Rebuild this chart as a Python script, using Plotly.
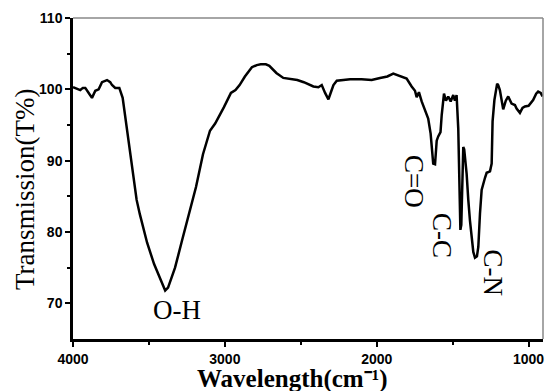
import plotly.graph_objects as go

wavenumber = [4000, 3975, 3952, 3935, 3919, 3900, 3875, 3853, 3831, 3809, 3776, 3755, 3743, 3722, 3695,
              3673, 3650, 3623, 3601, 3581, 3560, 3547, 3512, 3466, 3420, 3393, 3374, 3350, 3328, 3282,
              3236, 3190, 3144, 3098, 3064, 3030, 3006, 2960, 2930, 2903, 2868, 2822, 2790, 2764, 2730,
              2707, 2661, 2615, 2560, 2523, 2480, 2440, 2417, 2384, 2362, 2340, 2318, 2300, 2285, 2263,
              2175, 2100, 2033, 1978, 1930, 1891, 1847, 1803, 1770, 1748, 1737, 1722, 1704, 1682, 1661,
              1645, 1635, 1628, 1616, 1605, 1595, 1580, 1572, 1557, 1544, 1529, 1513, 1496, 1485, 1474,
              1463, 1455, 1449, 1443, 1436, 1430, 1424, 1416, 1408, 1397, 1386, 1364, 1353, 1340, 1331,
              1320, 1309, 1287, 1276, 1254, 1243, 1237, 1225, 1207, 1200, 1189, 1167, 1150, 1134, 1112,
              1090, 1079, 1057, 1040, 1024, 1000, 991, 970, 950, 937, 920, 908]
transmission = [100.3, 100.1, 99.9, 100.2, 100.2, 99.6, 98.8, 99.8, 100.0, 101.0, 101.3, 101.0, 100.6, 100.2, 100.2,
                98.8, 95.2, 91.5, 87.8, 84.5, 82.5, 81.5, 78.5, 75.5, 73.1, 71.8, 72.2, 73.6, 75.0, 78.8,
                82.5, 86.3, 90.9, 94.2, 95.2, 96.5, 97.5, 99.5, 99.9, 100.6, 101.8, 103.1, 103.4, 103.5, 103.5,
                103.3, 102.3, 101.6, 101.4, 101.3, 101.0, 100.6, 100.4, 100.3, 100.6, 99.5, 98.6, 99.7, 100.6, 101.2,
                101.4, 101.4, 101.3, 101.6, 101.8, 102.2, 101.9, 101.5, 100.4, 99.8, 98.9, 99.6, 98.3, 97.1, 95.9,
                93.8, 91.0, 89.6, 89.5, 92.8, 93.4, 94.0, 96.4, 99.4, 98.4, 99.0, 98.3, 99.2, 98.4, 99.2,
                94.5, 85.0, 80.3, 81.0, 88.0, 91.9, 91.6, 90.0, 88.2, 84.5, 81.6, 77.2, 76.4, 76.6, 77.9,
                82.6, 85.9, 87.6, 88.3, 88.5, 89.6, 95.5, 98.5, 100.8, 100.6, 99.9, 97.2, 98.4, 99.0, 98.0,
                97.8, 97.3, 96.7, 97.4, 97.6, 97.7, 97.9, 98.5, 99.4, 99.7, 99.5, 99.0]

x_ticks = [4000, 3000, 2000, 1000]
y_ticks = [70, 80, 90, 100, 110]

peak_labels = ["O-H", "C=O", "C-C", "C-N"]
peak_x = [3316, 1759, 1567, 1233]
peak_y = [69.0, 87.1, 79.5, 74.3]
peak_angle = [0, 90, 90, 90]

fig = go.Figure()
fig.add_trace(go.Scatter(x=wavenumber, y=transmission, mode="lines",
                         line=dict(color="black", width=2.5), showlegend=False, hoverinfo="skip"))

tick_font = dict(family="Liberation Sans", size=14, color="black", weight="bold")
fig.update_xaxes(range=[4000, 905], tickvals=x_ticks, ticktext=[str(v) for v in x_ticks],
                 ticks="outside", ticklen=5, tickwidth=2, tickcolor="black", automargin=False,
                 showline=True, linecolor="black", linewidth=2.5, showgrid=False, zeroline=False,
                 tickfont=tick_font,
                 minor=dict(tickvals=[3500, 2500, 1500], ticks="outside", ticklen=3, tickwidth=1.5,
                            tickcolor="black", showgrid=False))
fig.update_yaxes(range=[65, 110], tickvals=y_ticks, ticks="outside", ticklen=5, tickwidth=2,
                 tickcolor="black", showline=True, linecolor="black", linewidth=2.5, automargin=False,
                 showgrid=False, zeroline=False, tickfont=tick_font,
                 minor=dict(tickvals=[75, 85, 95, 105], ticks="outside", ticklen=3, tickwidth=1.5,
                            tickcolor="black", showgrid=False))

for txt, px, py, ang in zip(peak_labels, peak_x, peak_y, peak_angle):
    fig.add_annotation(x=px, y=py, text=txt, textangle=ang, showarrow=False,
                       font=dict(family="Liberation Serif", size=27, color="black"),
                       xanchor="center", yanchor="middle")

# axis titles
fig.add_annotation(xref="paper", yref="paper", x=(292 - 73) / 470, y=(339 - 379) / 321,
                   text="<b>Wavelength(cm\u207b\u00b9)</b>", showarrow=False,
                   font=dict(family="Liberation Serif", size=25, color="black"),
                   xanchor="center", yanchor="middle")
fig.add_annotation(xref="paper", yref="paper", x=(25 - 73) / 470, y=(339 - 189) / 321,
                   text="Transmission(T%)", textangle=-90, showarrow=False,
                   font=dict(family="Liberation Serif", size=27, color="black"),
                   xanchor="center", yanchor="middle")

# thin gray top and right frame
fig.add_shape(type="line", xref="paper", yref="paper", x0=0, x1=1, y0=1, y1=1,
              line=dict(color="#888", width=1.5))
fig.add_shape(type="line", xref="paper", yref="paper", x0=1, x1=1, y0=0, y1=1,
              line=dict(color="#888", width=1.5))

fig.update_layout(width=548, height=391, margin=dict(l=73, r=5, t=18, b=52),
                  plot_bgcolor="white", paper_bgcolor="white")

fig.write_html("out.html", config={"displayModeBar": False},
               post_script="document.body.style.margin='0';document.body.style.overflow='hidden';")
